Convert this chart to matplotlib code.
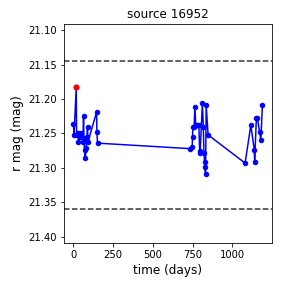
import matplotlib
matplotlib.use("Agg")
import matplotlib.pyplot as plt

# light curve for one source
days = [0, 4, 18, 20, 27, 32, 40, 50, 60, 64, 66, 70, 75, 80, 85, 89, 92,
        146, 148, 152,
        735, 748, 750, 752, 760, 765, 770, 778, 790, 795, 798, 812, 818, 822,
        826, 828, 832, 836, 848,
        1081, 1117, 1139, 1141, 1152, 1158, 1172, 1180, 1190]
mags = [21.236, 21.252, 21.183, 21.252, 21.249, 21.262, 21.255, 21.249, 21.262,
        21.225, 21.257, 21.274, 21.285, 21.271, 21.255, 21.240, 21.262,
        21.219, 21.248, 21.264,
        21.272, 21.269, 21.255, 21.240, 21.240, 21.211, 21.238, 21.238, 21.238,
        21.276, 21.278, 21.206, 21.240, 21.279, 21.291, 21.298, 21.309, 21.209,
        21.252,
        21.293, 21.238, 21.274, 21.291, 21.227, 21.227, 21.248, 21.259, 21.209]
peak_day = 18
peak_mag = 21.183
upper_line = 21.145
lower_line = 21.36

fig = plt.figure(figsize=(4, 4), dpi=72)
fig.subplots_adjust(left=0.222, right=0.944, top=0.917, bottom=0.156)
ax = fig.add_subplot(111)

ax.plot(days, mags, 'b-o', markersize=4.5, linewidth=1.5)
ax.plot(peak_day, peak_mag, 'ro', markersize=5)
ax.axhline(upper_line, color='k', linestyle='--', linewidth=1.5, alpha=0.8)
ax.axhline(lower_line, color='k', linestyle='--', linewidth=1.5, alpha=0.8)

ax.set_ylim(21.409, 21.091)
ax.set_yticks([21.10, 21.15, 21.20, 21.25, 21.30, 21.35, 21.40])
ax.set_xticks([0, 250, 500, 750, 1000])
ax.set_title('source 16952', fontsize=12)
ax.set_xlabel('time (days)', fontsize=12)
ax.set_ylabel('r mag (mag)', fontsize=12)

fig.savefig('out.png', dpi=72)
